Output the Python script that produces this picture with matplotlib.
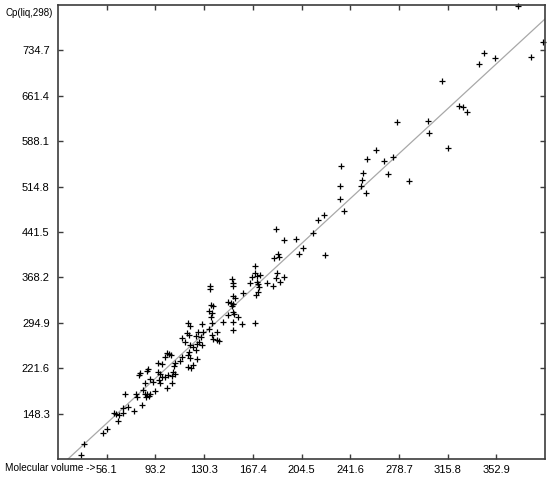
import matplotlib
matplotlib.use("Agg")
import matplotlib.pyplot as plt
import numpy as np

# ---------------- data ----------------
mol_volume = [
    70.0, 78.4, 79.2, 85.3, 86.8, 89.1, 86.0, 88.3, 83.0, 72.3, 68.5, 61.7, 63.2, 65.5,
    68.5, 76.9, 64.7, 56.3, 53.3, 38.8, 36.5,
    115.8, 119.6, 121.8, 124.9, 126.4, 128.7, 124.1, 118.8, 102.0, 103.6, 105.1, 100.5,
    118.0, 119.6, 113.5, 111.9, 124.9, 95.2, 98.2, 108.1, 107.4, 121.8, 118.0, 120.3,
    87.6, 86.8, 81.5, 80.7, 95.2, 96.7, 106.6, 108.1, 102.8, 105.9, 100.5, 98.2, 89.1,
    91.4, 96.0, 96.7, 85.3, 105.9, 102.0, 83.8, 92.9,
    159.9, 171.4, 169.8, 152.3, 153.8, 148.5, 150.8, 135.6, 137.1, 152.3, 151.6, 134.0,
    136.3, 152.3, 153.1, 148.5, 135.6, 156.1, 144.7, 152.3, 118.0, 119.6, 128.7, 136.3,
    159.2, 169.1, 134.0, 152.3, 125.7, 129.5, 117.3, 118.8, 140.1, 136.3, 124.1, 127.9,
    113.5, 137.1, 140.1, 141.7, 134.8, 134.8,
    213.3, 191.2, 200.3, 205.6, 202.6, 186.6, 187.4, 183.6, 169.1, 169.1, 170.6, 172.9,
    166.8, 185.8, 185.1, 191.2, 151.6, 152.3, 152.3, 165.3, 170.6, 171.4, 172.1, 178.2,
    182.8, 188.1,
    185.1, 222.4, 217.1, 221.6, 236.9, 233.8, 253.6, 233.8, 249.8, 286.4, 250.6, 251.4,
    270.4, 234.6, 267.4, 274.2, 254.4, 261.3, 316.1, 301.6, 300.9, 277.3, 388.5, 379.3,
    351.9, 343.5, 339.7, 311.5, 324.5, 327.5, 330.6, 369.4,
]
cp_liq = [
    180.0, 180.0, 175.1, 180.0, 180.0, 180.0, 175.1, 176.7, 162.2, 159.0, 157.4, 149.3, 147.7, 146.1,
    149.3, 152.5, 136.4, 123.5, 117.0, 99.2, 81.5,
    263.9, 259.1, 255.8, 260.7, 263.9, 259.1, 251.0, 247.8, 246.2, 244.6, 242.9, 239.7,
    242.9, 238.1, 239.7, 233.2, 236.5, 230.0, 228.4, 230.0, 225.2, 226.8, 223.6, 221.9,
    220.3, 217.1, 213.9, 210.6, 215.5, 212.3, 215.5, 212.3, 210.6, 209.0, 207.4, 207.4, 204.2,
    199.3, 202.6, 197.7, 197.7, 197.7, 189.6, 186.4, 184.8,
    343.0, 344.6, 339.8, 338.2, 335.0, 328.5, 326.9, 323.6, 322.0, 325.3, 322.0, 314.0,
    310.7, 312.3, 309.1, 307.5, 304.3, 304.3, 296.2, 296.2, 294.6, 289.7, 293.0, 294.6,
    293.0, 294.6, 284.9, 283.3, 280.1, 280.1, 278.4, 275.2, 280.1, 275.2, 273.6, 272.0,
    270.4, 268.8, 267.1, 265.5, 354.3, 349.5,
    439.9, 428.6, 430.2, 415.7, 406.0, 406.0, 401.1, 399.5, 386.6, 375.3, 370.5, 372.1,
    368.9, 375.3, 367.2, 368.9, 365.6, 359.2, 354.3, 359.2, 360.8, 357.6, 352.7, 359.2,
    354.3, 360.8,
    446.4, 404.4, 460.9, 469.0, 475.4, 494.8, 504.5, 515.8, 515.8, 523.9, 525.5, 536.8,
    535.2, 548.1, 556.1, 562.6, 559.4, 573.9, 577.1, 601.3, 620.7, 619.1, 748.3, 724.0,
    722.4, 730.5, 712.7, 685.3, 644.9, 643.3, 635.3, 806.0,
]

fit_slope = 1.955
fit_intercept = 23.0

x_min, x_max = 19.0, 390.0
y_min, y_max = 75.0, 808.0
x_ticks = [56.1, 93.2, 130.3, 167.4, 204.5, 241.6, 278.7, 315.8, 352.9]
y_ticks = [148.3, 221.6, 294.9, 368.2, 441.5, 514.8, 588.1, 661.4, 734.7]
x_title = "Molecular volume ->"
y_title = "Cp(liq,298)"

# ---------------- figure ----------------
W, H = 550, 478
plt.rcParams['font.family'] = ['Liberation Sans', 'DejaVu Sans']
fig = plt.figure(figsize=(W / 100, H / 100), dpi=100)
ax = fig.add_axes([58 / W, 1 - 459 / H, (545 - 58) / W, (459 - 5) / H])

axis_col = '#3c3c3c'

# regression line
lx = np.array([x_min, x_max])
ax.plot(lx, fit_slope * lx + fit_intercept, color='#a8a8a8', lw=0.9, zorder=1)

# points
ax.plot(mol_volume, cp_liq, linestyle='none', marker='+', color='black',
        markersize=5.0, markeredgewidth=0.9, zorder=2, clip_on=False)

ax.set_xlim(x_min, x_max)
ax.set_ylim(y_min, y_max)

ax.set_xticks(x_ticks)
ax.set_yticks(y_ticks)
ax.set_xticklabels([f"{v:.1f}" for v in x_ticks])
ax.set_yticklabels([f"{v:.1f}" for v in y_ticks])

ax.tick_params(axis='both', direction='in', length=3.5, width=1.0, color=axis_col,
               labelsize=8, labelcolor='black', top=True, right=True)
ax.tick_params(axis='y', pad=6)
ax.tick_params(axis='x', pad=4)

for sp in ax.spines.values():
    sp.set_color(axis_col)
    sp.set_linewidth(1.2)

# titles
fig.text(5 / W, 1 - 13 / H, y_title, ha='left', va='center', fontsize=7)
fig.text(5 / W, 1 - 468 / H, x_title, ha='left', va='center', fontsize=7.2)

fig.savefig('out.png', dpi=100)
